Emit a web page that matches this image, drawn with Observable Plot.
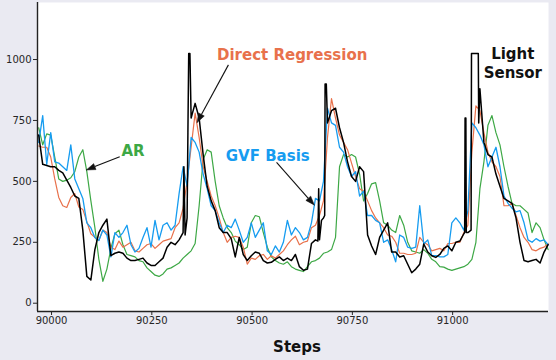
<!DOCTYPE html>
<html><head><meta charset="utf-8">
<script src="https://cdn.jsdelivr.net/npm/d3@7"></script>
<script src="https://cdn.jsdelivr.net/npm/@observablehq/plot@0.6"></script>
<style>html,body{margin:0;padding:0;background:#eaeaf2;}</style>
</head><body><div id="chart"></div>
<script>
// ---- data (sampled every 10 steps, starting at step 89968) ----
const stepStart = 89968, stepSize = 10;

const lightSensor = [
  690, 570, 565, 560, 560, 545, 535, 505, 475, 440, 430, 300, 110, 95, 220, 290,
  320, 345, 195, 205, 210, 205, 185, 175, 175, 180, 185, 165, 155, 155, 170, 185,
  230, 250, 240, 260, 290, 350, 760, 820, 760, 610, 480, 420, 380, 310, 290, 290,
  265, 190, 270, 200, 175, 195, 210, 205, 175, 165, 168, 180, 190, 175, 185, 175,
  200, 150, 135, 140, 245, 260, 260, 350, 740, 790, 800, 720, 660, 580, 520, 500,
  560, 540, 280, 235, 200, 270, 300, 330, 210, 210, 190, 195, 160, 125, 140, 160,
  243, 210, 195, 188, 200, 225, 235, 215, 250, 255, 285, 290, 1025, 1025, 880, 660,
  610, 600, 530, 480, 430, 420, 410, 350, 250, 175, 170, 175, 180, 165, 210, 240
];
// extra readings around the narrow sensor spikes
const sensorSpikeSteps  = [90330, 90333, 90340, 90342, 90345, 90664, 90666, 90673, 90681, 90682, 90685, 91030, 91031, 91033, 91034, 91046, 91047, 91064, 91065];
const sensorSpikeValues = [560, 280, 700, 1025, 1025, 255, 470, 340, 360, 900, 900, 290, 760, 760, 290, 300, 1025, 1025, 740];

const directRegression = [
  645, 640, 640, 600, 510, 434, 400, 393, 434, 450, 395, 385, 335, 285, 270, 258,
  300, 290, 230, 220, 255, 230, 240, 250, 215, 210, 225, 240, 245, 225, 240, 255,
  260, 265, 310, 330, 390, 500, 640, 780, 680, 560, 500, 440, 400, 350, 290, 250,
  270, 275, 270, 230, 160, 185, 180, 195, 200, 180, 195, 185, 200, 215, 240, 260,
  275, 240, 250, 255, 310, 320, 360, 420, 680, 840, 760, 690, 660, 630, 575, 520,
  470, 460, 420, 380, 350, 330, 310, 280, 275, 250, 205, 205, 200, 200, 205, 270,
  250, 240, 215, 220, 225, 215, 245, 245, 250, 250, 290, 320, 620, 810, 790, 700,
  620, 580, 560, 520, 400, 400, 410, 360, 310, 270, 250, 220, 215, 225, 230, 245
];

const gvfBasis = [
  660, 770, 570, 700, 580, 575, 560, 545, 650, 510, 470, 430, 330, 310, 270, 257,
  300, 280, 190, 290, 270, 290, 320, 240, 210, 225, 270, 310, 230, 340, 260, 320,
  330, 300, 320, 450, 560, 480, 680, 660, 620, 530, 470, 400, 380, 330, 290, 320,
  310, 345, 300, 250, 270, 330, 270, 300, 330, 215, 200, 235, 210, 250, 340, 280,
  310, 290, 260, 270, 330, 430, 420, 500, 800, 740, 730, 640, 620, 560, 520, 540,
  440, 460, 360, 360, 340, 330, 250, 260, 220, 170, 280, 270, 230, 225, 230, 400,
  243, 260, 195, 195, 190, 190, 200, 330, 350, 330, 300, 380, 740, 720, 690, 650,
  560, 600, 640, 560, 440, 410, 390, 375, 380, 330, 260, 250, 265, 255, 260, 240
];

const arModel = [
  720, 650, 695, 690, 600, 510, 500, 505, 515, 540, 600, 630, 540, 421, 311, 180,
  90, 140, 225, 285, 300, 240, 200, 195, 190, 175, 170, 145, 130, 115, 110, 120,
  140, 145, 155, 165, 185, 200, 215, 245, 400, 590, 630, 620, 500, 400, 350, 310,
  290, 255, 240, 220, 230, 330, 360, 355, 290, 230, 190, 175, 165, 160, 170, 150,
  140, 135, 130, 150, 170, 175, 185, 205, 210, 220, 270, 560, 610, 600, 610, 600,
  530, 420, 450, 490, 495, 420, 330, 320, 300, 290, 360, 320, 250, 215, 210, 205,
  220, 205, 180, 170, 150, 148, 140, 135, 140, 145, 150, 160, 180, 250, 470, 580,
  730, 770, 700, 650, 560, 480, 410, 400, 400, 385, 370, 290, 330, 310, 260, 220
];

const xTicks = [90000, 90250, 90500, 90750, 91000];
const yTicks = [0, 250, 500, 750, 1000];
const xLabel = "Steps";

// annotations (data coordinates)
const labelTexts  = ["Direct Regression", "GVF Basis", "AR", "Light", "Sensor"];
const labelSteps  = [90600, 90539, 90203, 91150, 91150];
const labelValues = [999, 585, 605, 1002, 926];
const labelColors = ["#E8714B", "#169CF0", "#3DA845", "#111111", "#111111"];

const arrowFromSteps  = [90441, 90170, 90561];
const arrowFromValues = [978, 601, 578];
const arrowToSteps    = [90363, 90087, 90655];
const arrowToValues   = [742, 547, 403];

// ---- layout ----
const W = 556, H = 360;
const mL = 37, mR = 8, mT = 2, mB = 49;
const xDomain = [89965, 91239];
const yDomain = [-34, 1234];
const kx = (W - mL - mR) / (xDomain[1] - xDomain[0]);
const ky = (H - mT - mB) / (yDomain[1] - yDomain[0]);

const series = (vals) => vals.map((v, i) => ({step: stepStart + stepSize * i, value: v}));
const sensorData = series(lightSensor)
  .concat(sensorSpikeSteps.map((s, i) => ({step: s, value: sensorSpikeValues[i]})))
  .sort((a, b) => a.step - b.step);

const labels = labelTexts.map((t, i) => ({t, x: labelSteps[i], y: labelValues[i], c: labelColors[i]}));

// arrows: shaft + filled head computed in screen space
const headL = 9, headHW = 3.2;
const shafts = [], heads = [];
arrowFromSteps.forEach((fx, k) => {
  const fy = arrowFromValues[k], tx = arrowToSteps[k], ty = arrowToValues[k];
  const sx = (tx - fx) * kx, sy = -(ty - fy) * ky;
  const len = Math.hypot(sx, sy), ux = sx / len, uy = sy / len;
  const toData = (ox, oy) => ({x: tx + ox / kx, y: ty - oy / ky});
  const base = toData(-headL * ux, -headL * uy);
  shafts.push({x1: fx, y1: fy, x2: base.x, y2: base.y});
  const c1 = toData(-headL * ux - headHW * uy, -headL * uy + headHW * ux);
  const c2 = toData(-headL * ux + headHW * uy, -headL * uy - headHW * ux);
  heads.push({k, x: tx, y: ty}, {k, ...c1}, {k, ...c2}, {k, x: tx, y: ty});
});

const chart = Plot.plot({
  width: W, height: H,
  marginLeft: mL, marginRight: mR, marginTop: mT, marginBottom: mB,
  style: {background: "#eaeaf2", fontFamily: "DejaVu Sans, sans-serif", fontSize: "10px", color: "#262626"},
  x: {domain: xDomain, ticks: xTicks, tickFormat: d => String(d), tickSize: 4, tickPadding: 1, label: null},
  y: {domain: yDomain, ticks: yTicks, tickFormat: d => String(d), tickSize: 4, tickPadding: 2, label: null},
  marks: [
    Plot.frame({fill: "white", stroke: "none"}),
    Plot.line(series(arModel), {x: "step", y: "value", stroke: "#3DA845", strokeWidth: 1.2}),
    Plot.line(series(directRegression), {x: "step", y: "value", stroke: "#E8714B", strokeWidth: 1.2}),
    Plot.line(series(gvfBasis), {x: "step", y: "value", stroke: "#169CF0", strokeWidth: 1.3}),
    Plot.line(sensorData, {x: "step", y: "value", stroke: "#000", strokeWidth: 1.5}),
    Plot.ruleX([xDomain[0]], {stroke: "#222", strokeWidth: 1.4}),
    Plot.ruleY([yDomain[0]], {stroke: "#222", strokeWidth: 1.4}),
    Plot.link(shafts, {x1: "x1", y1: "y1", x2: "x2", y2: "y2", stroke: "#111", strokeWidth: 1.1}),
    Plot.line(heads, {x: "x", y: "y", z: "k", fill: "#111", stroke: "#111", strokeWidth: 0.6}),
    Plot.text(labels, {x: "x", y: "y", text: "t", fill: "c", fontSize: 15, fontWeight: "bold", textAnchor: "middle", lineAnchor: "bottom"}),
    Plot.text([xLabel], {text: d => d, frameAnchor: "bottom", dx: 4, dy: 40, lineAnchor: "bottom", fontSize: 15, fontWeight: "bold", fill: "#111"})
  ]
});
document.getElementById("chart").append(chart);
</script>
</body></html>
